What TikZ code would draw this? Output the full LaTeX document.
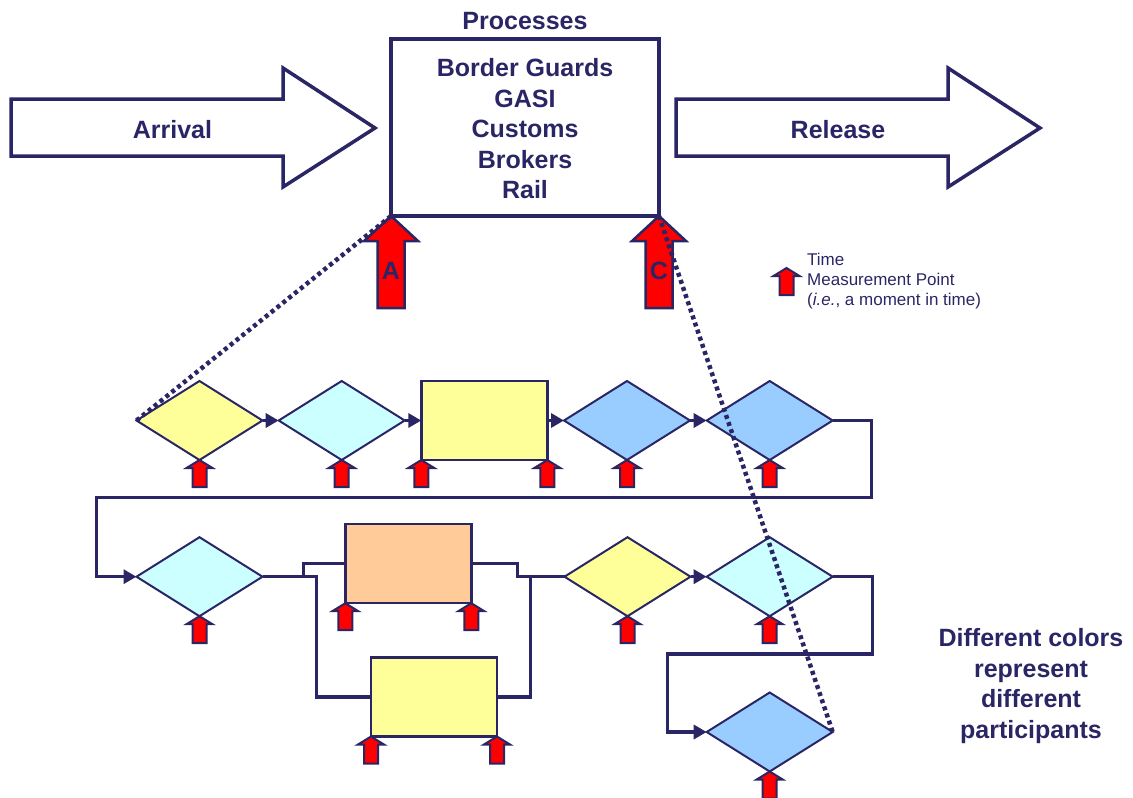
\documentclass[tikz,border=0pt]{standalone}
\usepackage{fontspec}
\setmainfont{Liberation Sans}
\usetikzlibrary{shapes.geometric, arrows.meta}
\definecolor{navy}{RGB}{42,38,102}
\definecolor{pyellow}{RGB}{255,255,153}
\definecolor{pcyan}{RGB}{204,255,255}
\definecolor{pblue}{RGB}{153,204,255}
\definecolor{porange}{RGB}{255,204,153}
% small time measurement point, tip at #1
\newcommand*\tpoint[1]{%
	\draw[tmark] (#1) -- ++(13,8) -- ++(-6,0) -- ++(0,19) -- ++(-14,0) -- ++(0,-19) -- ++(-6,0) -- cycle;
}
% large measurement point with a letter
\newcommand*\tbig[2]{%
	\draw[tmark, line width=2.5pt] (#1) -- ++(27,25) -- ++(-13.5,0) -- ++(0,67) -- ++(-27,0) -- ++(0,-67) -- ++(-13.5,0) -- cycle;
	\path (#1) ++(0,55) node[lbl] (mark#2) {#2};
}

\begin{document}
\begin{tikzpicture}[x=1pt,y=-1pt,
		lbl/.style={font=\fontsize{25}{30.5}\selectfont\bfseries, text=navy, align=center, inner sep=0},
		legend/.style={font=\fontsize{17}{20}\selectfont, text=navy, align=left, inner sep=0},
		proc/.style={draw=navy, line width=4pt, minimum width=268, minimum height=177, outer sep=0},
		bigarrow/.style={draw=navy, line width=3.5pt, fill=white, line join=miter},
		dia/.style={diamond, draw=navy, line width=2pt, minimum width=126, minimum height=79, inner sep=0, outer sep=0},
		box/.style={rectangle, draw=navy, line width=2.5pt, minimum width=126, minimum height=79, inner sep=0, outer sep=0},
		flow/.style={draw=navy, line width=3.5pt},
		tip/.style={-{Triangle[length=13pt,width=14pt]}},
		tmark/.style={draw=navy, line width=2pt, fill=red, line join=miter},
		dotline/.style={draw=navy, line width=4.5pt, dash pattern=on 4pt off 3.5pt},
	]
	\useasboundingbox (0,0) rectangle (1133,798);

	% arrival -> processes -> release
	\node[proc] (proc) at (525,127.5) {};
	\node[lbl] (procnames) at (525,129) {Border Guards\\GASI\\Customs\\Brokers\\Rail};
	\node[lbl] (proctitle) at (525,21) {Processes};
	\draw[bigarrow] (11,99) -- (283,99) -- (283,68) -- (375,128) -- (283,187) -- (283,156) -- (11,156) -- cycle;
	\node[lbl] (arrival) at (172.5,130) {Arrival};
	\draw[bigarrow] (676,99) -- (948,99) -- (948,68) -- (1040,128) -- (948,187) -- (948,156) -- (676,156) -- cycle;
	\node[lbl] (release) at (838,130) {Release};
	\tbig{proc.south west}{A}
	\tbig{proc.south east}{C}

	% legend
	\coordinate (legtip) at (786.5,268);
	\tpoint{legtip}
	\node[legend, anchor=west] (legtext) at (807,281) {Time\\Measurement Point\\(\textit{i.e.}, a moment in time)};

	% first row
	\node[dia, fill=pyellow] (d1) at (199.5,420.5) {};
	\node[dia, fill=pcyan] (d2) at (341.7,420.5) {};
	\node[box, fill=pyellow] (r1) at (484.3,420.5) {};
	\node[dia, fill=pblue] (d3) at (627,420.5) {};
	\node[dia, fill=pblue] (d4) at (769.7,420.5) {};
	\foreach \a/\b in {d1/d2, d2/r1, r1/d3, d3/d4}{
		\draw[flow, tip] (\a.east) -- (\b.west);
	}

	% second row
	\node[dia, fill=pcyan] (d5) at (199.5,576.7) {};
	\node[box, fill=porange] (r2) at (408.3,563.7) {};
	\node[box, fill=pyellow] (r3) at (434,697) {};
	\node[dia, fill=pyellow] (d6) at (627.5,576.7) {};
	\node[dia, fill=pcyan] (d7) at (769.7,576.7) {};
	\node[dia, fill=pblue] (d8) at (769.7,732) {};

	\draw[flow, tip] (d4.east) -- ++(39,0) -- ++(0,77) -| ([xshift=-40]d5.west) -- (d5.west);
	\draw[flow] ([xshift=41]d5.east) |- (r2.west);
	\draw[flow] (d5.east) -- ++(54,0) |- (r3.west);
	\draw[flow] (r2.east) -- ++(46,0) |- (d6.west);
	\draw[flow] (r3.east) -- ++(33.4,0) |- (d6.west);
	\draw[flow, tip] (d6.east) -- (d7.west);
	\draw[flow, tip] (d7.east) -- ++(39.6,0) -- ++(0,77.3) -| ([xshift=-39]d8.west) -- (d8.west);

	% measurement points
	\foreach \p in {d1.south, d2.south, r1.south west, r1.south east, d3.south, d4.south,
		d5.south, r2.south west, r2.south east, r3.south west, r3.south east,
		d6.south, d7.south, d8.south}{
		\tpoint{\p}
	}

	\draw[dotline] (proc.south west) -- (d1.west);
	\draw[dotline] (proc.south east) -- (d8.east);

	\node[lbl] (colornote) at (1031,686) {Different colors\\represent\\different\\participants};
\end{tikzpicture}
\end{document}
